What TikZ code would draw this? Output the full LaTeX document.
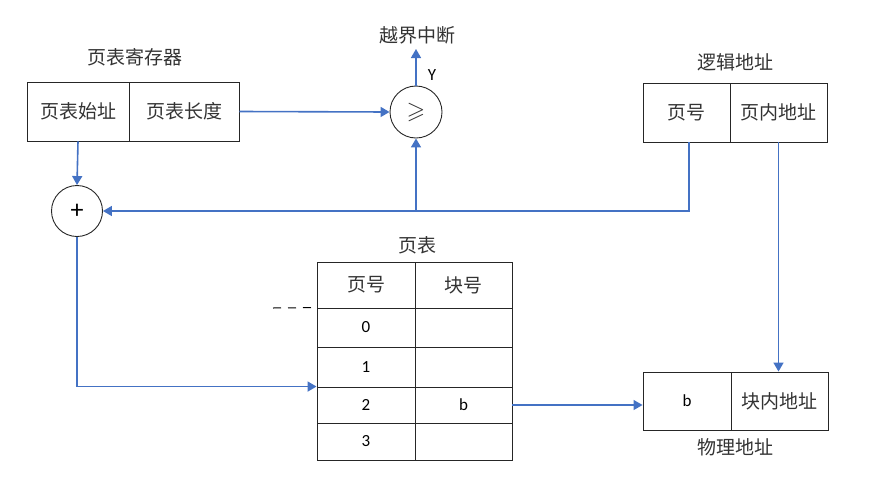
\documentclass[tikz,border=0pt]{standalone}
\usepackage{amssymb}
\usepackage{fontspec}
\setmainfont{Carlito}
\newfontfamily\cjk{Noto Sans CJK SC}
\usetikzlibrary{arrows.meta}
\definecolor{lnblue}{HTML}{4472C4}
\definecolor{txtgray}{HTML}{333333}
\tikzset{
  cell/.style={draw=black!85, line width=0.9pt, rectangle, inner sep=0pt, anchor=center, font=\fontsize{19}{19}\cjk, text=txtgray},
  numcell/.style={cell, font=\fontsize{17}{17}\selectfont, text=black},
  ring/.style={draw=black!85, line width=0.9pt, circle, inner sep=0pt, minimum size=51pt},
  lbl/.style={font=\fontsize{19}{19}\cjk, text=txtgray, inner sep=0pt},
  conn/.style={draw=lnblue, line width=1.6pt},
  arr/.style={conn, -{Triangle[length=9pt,width=10pt]}}
}
\begin{document}
\begin{tikzpicture}[x=1pt,y=-1pt]
\useasboundingbox (0,0) rectangle (876,480);
% page table register
\node[lbl] (ptrlbl) at (135,57) {页表寄存器};
\node[cell, minimum width=102pt, minimum height=59pt] (ptr1) at (78,111.5) {页表始址};
\node[cell, minimum width=110pt, minimum height=59pt] (ptr2) at (184,111.5) {页表长度};
% adder and comparator
\node[ring, font=\fontsize{26}{26}\selectfont] (plus) at (77,211) {+};
\node[ring, minimum size=52pt, font=\fontsize{24}{24}\selectfont, text=txtgray] (cmp) at (416,112) {$\geqslant$};
\node[lbl] (intlbl) at (417,35) {越界中断};
\coordinate (intend) at (416,49);
\node[font=\fontsize{17}{17}\selectfont, inner sep=0pt] (ylbl) at (432,75) {Y};
% logical address
\node[lbl] (lalbl) at (735,62) {逻辑地址};
\node[cell, minimum width=87pt, minimum height=59pt] (la1) at (686.5,112.5) {页号};
\node[cell, minimum width=97pt, minimum height=59pt] (la2) at (778.5,112.5) {页内地址};
% page table
\node[lbl] (ptlbl) at (417,245) {页表};
\node[cell, minimum width=98pt, minimum height=46pt] (th1) at (366,285) {页号};
\node[cell, minimum width=97pt, minimum height=46pt] (th2) at (463.5,285) {块号};
\node[numcell, minimum width=98pt, minimum height=39pt] (t0a) at (366,327.5) {0};
\node[numcell, minimum width=97pt, minimum height=39pt] (t0b) at (463.5,327.5) {};
\node[numcell, minimum width=98pt, minimum height=40pt] (t1a) at (366,367) {1};
\node[numcell, minimum width=97pt, minimum height=40pt] (t1b) at (463.5,367) {};
\node[numcell, minimum width=98pt, minimum height=36pt] (t2a) at (366,405) {2};
\node[numcell, minimum width=97pt, minimum height=36pt] (t2b) at (463.5,405) {b};
\node[numcell, minimum width=98pt, minimum height=37pt] (t3a) at (366,441.5) {3};
\node[numcell, minimum width=97pt, minimum height=37pt] (t3b) at (463.5,441.5) {};
\coordinate (dashA) at (273,308);
\draw[black, line width=1pt, dash pattern=on 8pt off 7pt] (dashA) -- (t0a.north west);
% physical address
\node[numcell, minimum width=88pt, minimum height=58pt] (pa1) at (687,401) {b};
\node[cell, minimum width=97pt, minimum height=58pt] (pa2) at (779.5,401) {块内地址};
\node[lbl] (palbl) at (735,447) {物理地址};
% connectors
\draw[arr] (ptr1.south) -- (plus.north);
\draw[arr] (ptr2.east) -- (cmp.west);
\draw[arr] (cmp.north) -- (intend);
\draw[arr] ([xshift=2.5pt]la1.south) |- (plus.east);
\draw[arr] (cmp.south |- plus.east) -- (cmp.south);
\draw[arr] (la2.south) -- (la2.south |- pa2.north);
\draw[arr] (plus.south) |- (t2a.north west);
\draw[conn, -{Triangle[length=9pt,width=10pt]}, line width=1.2pt] (t2b.east) -- (t2b.east -| pa1.west);
\end{tikzpicture}
\end{document}
